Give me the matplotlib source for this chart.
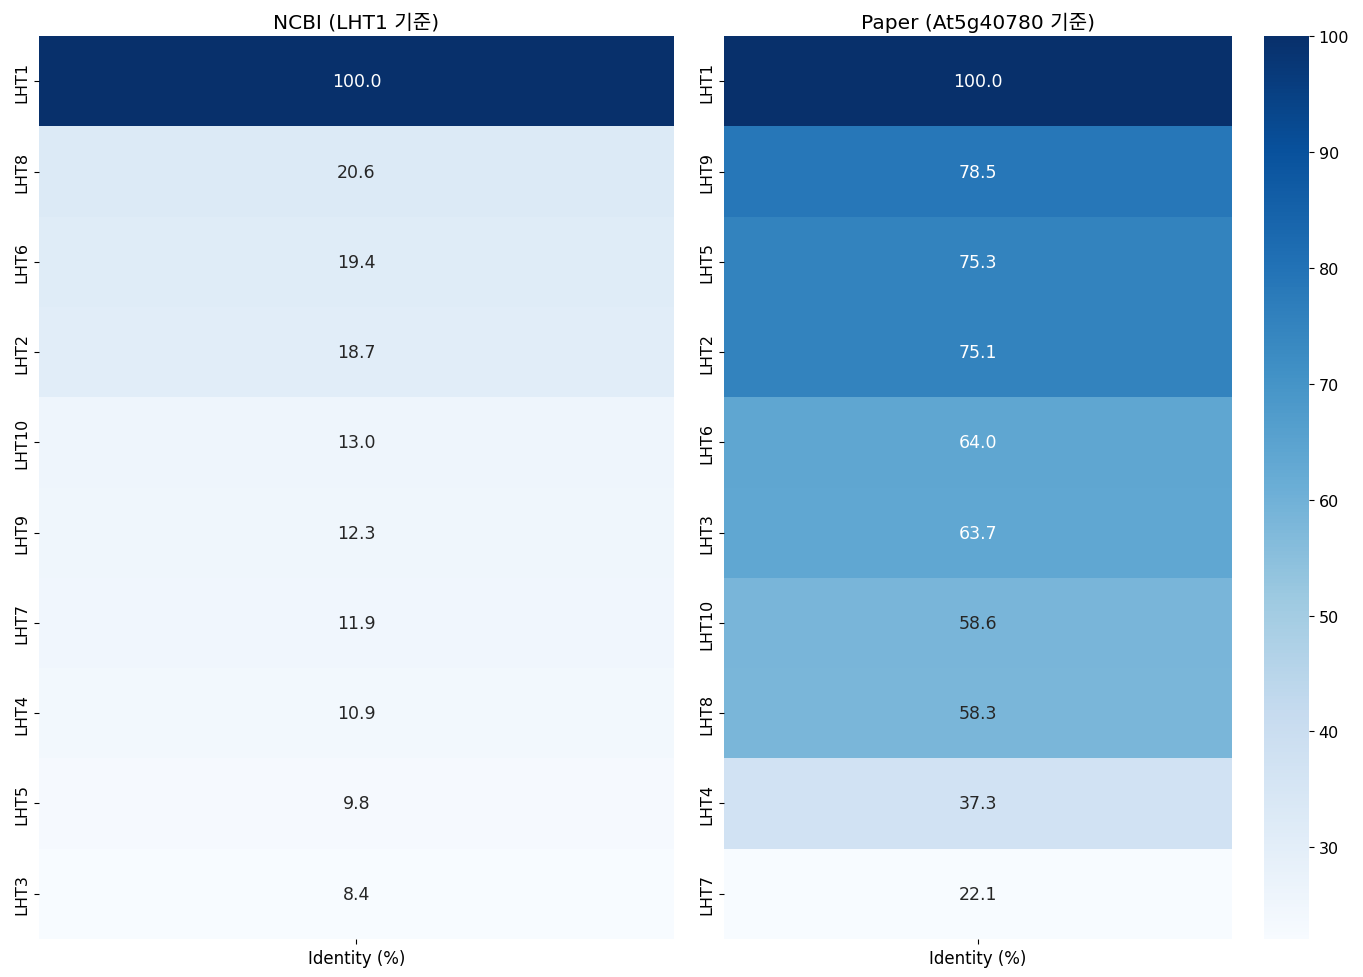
import numpy as np
import pandas as pd
import matplotlib
matplotlib.use("Agg")
import matplotlib.pyplot as plt
import seaborn as sns

ncbi_genes = ["LHT1", "LHT8", "LHT6", "LHT2", "LHT10", "LHT9", "LHT7", "LHT4", "LHT5", "LHT3"]
ncbi_identity = [100.0, 20.6, 19.4, 18.7, 13.0, 12.3, 11.9, 10.9, 9.8, 8.4]

paper_genes = ["LHT1", "LHT9", "LHT5", "LHT2", "LHT6", "LHT3", "LHT10", "LHT8", "LHT4", "LHT7"]
paper_identity = [100.0, 78.5, 75.3, 75.1, 64.0, 63.7, 58.6, 58.3, 37.3, 22.1]

col_name = "Identity (%)"

plt.rcParams["font.family"] = ["DejaVu Sans", "Noto Sans CJK KR"]

df_ncbi = pd.DataFrame({col_name: ncbi_identity}, index=ncbi_genes)
df_paper = pd.DataFrame({col_name: paper_identity}, index=paper_genes)

fig, axes = plt.subplots(1, 2, figsize=(13.63, 9.78), dpi=100)

sns.heatmap(df_ncbi, ax=axes[0], cmap="Blues", annot=True, fmt=".1f",
            cbar=False, annot_kws={"fontsize": 12.5})
axes[0].set_title("NCBI (LHT1 기준)", fontsize=14.5)

sns.heatmap(df_paper, ax=axes[1], cmap="Blues", annot=True, fmt=".1f",
            cbar=True, annot_kws={"fontsize": 12.5})
axes[1].set_title("Paper (At5g40780 기준)", fontsize=14.5)

for ax in axes:
    ax.set_ylabel("")
    ax.tick_params(axis="x", labelsize=12)
    ax.tick_params(axis="y", labelsize=11.5)
    plt.setp(ax.get_yticklabels(), rotation=90, va="center")
    plt.setp(ax.get_xticklabels(), rotation=0)

cbar = axes[1].collections[0].colorbar
cbar.ax.tick_params(labelsize=11.5)

fig.subplots_adjust(left=0.0286, right=0.997, top=0.962, bottom=0.039, wspace=0.0787)

plt.savefig("out.png", dpi=100)
plt.close()
